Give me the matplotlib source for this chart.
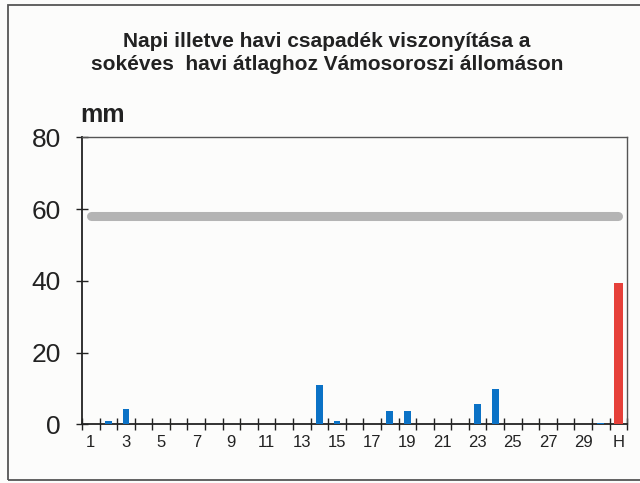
import matplotlib
matplotlib.use("Agg")
import matplotlib.pyplot as plt
from matplotlib.patches import Rectangle
import numpy as np

plt.rcParams['font.family'] = ['Liberation Sans', 'DejaVu Sans']

categories = [str(d) for d in range(1, 31)] + ["H"]
daily = [0, 0.8, 4.2, 0, 0, 0, 0, 0, 0, 0, 0, 0, 0, 11.0, 0.8, 0, 0, 3.7, 3.7, 0,
         0, 0, 5.7, 9.8, 0, 0, 0, 0, 0, 0.3]
monthly_total = 39.4
long_term_avg = 58.1
tick_labels = ["1", "3", "5", "7", "9", "11", "13", "15", "17", "19", "21", "23", "25", "27", "29", "H"]
title = "Napi illetve havi csapadék viszonyítása a\nsokéves  havi átlaghoz Vámosoroszi állomáson"

fig = plt.figure(figsize=(6.4, 4.83), dpi=100)
fig.patch.set_facecolor('#fcfcfb')
ax = fig.add_axes([0.128, 0.1215, 0.852, 0.594])
ax.set_facecolor('#fcfcfb')

x = np.arange(1, len(categories) + 1)
ax.bar(x[:30], daily, width=0.38, color='#0b72c6', zorder=3)
ax.bar(x[30], monthly_total, width=0.47, color='#e6403a', zorder=3)
ax.plot([x[0], x[-1]], [long_term_avg, long_term_avg], color='#b4b4b4', lw=6.5,
        solid_capstyle='round', zorder=2)

ax.set_xlim(0.5, len(categories) + 0.5)
ax.set_ylim(0, 80)
ax.set_yticks([0, 20, 40, 60, 80])
ax.tick_params(axis='y', direction='inout', length=8, width=1, labelsize=19, pad=11, colors='#222222')
ax.set_xticks(np.arange(0.5, len(categories) + 1, 1))
ax.set_xticklabels([])
ax.tick_params(axis='x', which='major', direction='inout', length=8, width=1, color='#222222')
lab_pos = [int(t) if t != "H" else len(categories) for t in tick_labels]
ax.set_xticks(lab_pos, minor=True)
ax.set_xticklabels(tick_labels, minor=True)
ax.tick_params(axis='x', which='minor', length=0, labelsize=12, pad=8, colors='#222222')

for s in ['left', 'bottom']:
    ax.spines[s].set_linewidth(1.3)
    ax.spines[s].set_color('#222222')
for s in ['top', 'right']:
    ax.spines[s].set_linewidth(1.0)
    ax.spines[s].set_color('#555555')

fig.text(0.125, 0.748, "mm", fontsize=18, fontweight='bold', ha='left', va='baseline', color='#222222')
fig.text(0.511, 0.890, title, fontsize=15, fontweight='bold', ha='center', va='center',
         linespacing=1.26, color='#222222')

fig.patches.append(Rectangle((8/640, 3/483), 1.0, 475/483, transform=fig.transFigure,
                             fill=False, edgecolor='#555555', lw=1.3))

fig.savefig("out.png", dpi=100, facecolor=fig.get_facecolor())
